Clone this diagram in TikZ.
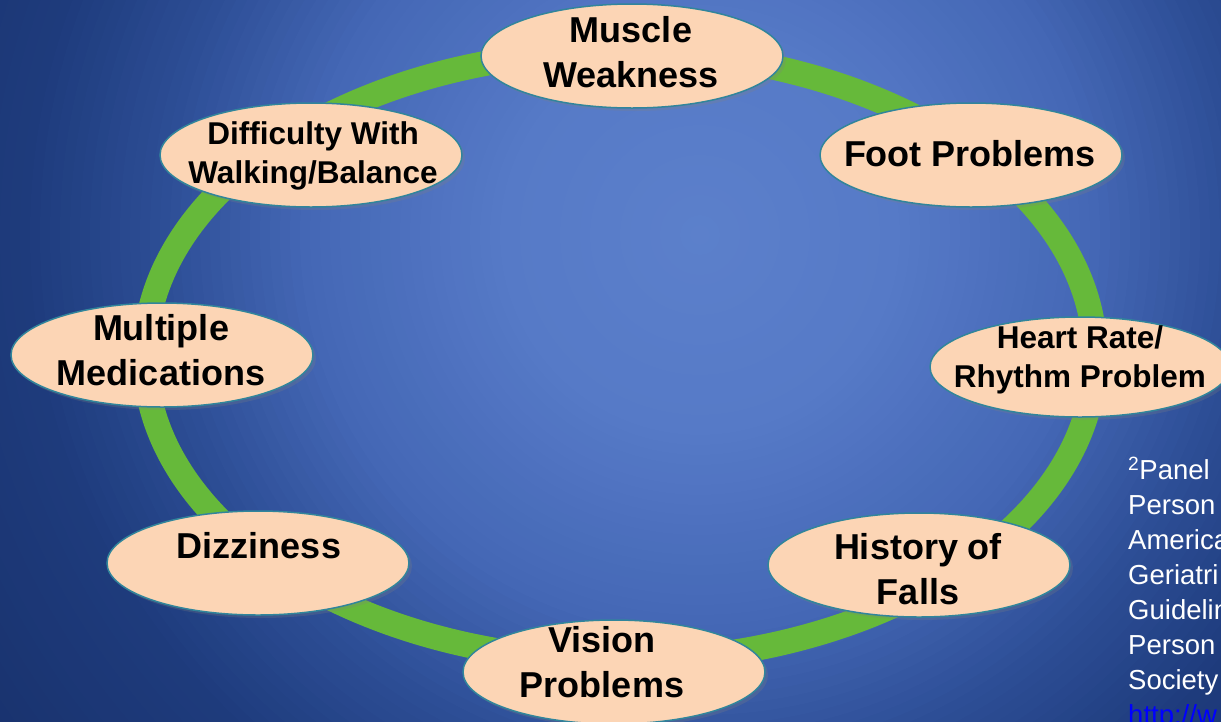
\documentclass[tikz,border=0pt]{standalone}
\usepackage{fontspec}
\setmainfont{Liberation Sans}
\usetikzlibrary{shapes.geometric,shadows}
\definecolor{bgA}{RGB}{92,128,203}
\definecolor{bgB}{RGB}{86,122,199}
\definecolor{bgC}{RGB}{68,103,181}
\definecolor{bgD}{RGB}{45,78,150}
\definecolor{bgE}{RGB}{30,59,124}
\definecolor{bgF}{RGB}{24,49,108}
\definecolor{ringgreen}{RGB}{102,185,58}
\definecolor{peach}{RGB}{252,213,181}
\definecolor{bubbleborder}{RGB}{49,133,155}
\definecolor{linkblue}{RGB}{0,0,255}
\newcommand\BigLbl{\fontsize{36}{45}\selectfont\bfseries}
\newcommand\SmLbl{\fontsize{31.5}{39}\selectfont\bfseries}
\newcommand\NoteFont{\fontsize{27.5}{35}\selectfont}
\tikzset{
  bubble/.style={ellipse, draw=bubbleborder, line width=1.5pt, fill=peach,
    minimum width=302pt, minimum height=104pt, inner sep=0pt,
    drop shadow={opacity=0.25, shadow xshift=3pt, shadow yshift=-3pt}},
  lbl/.style={align=center, inner sep=0pt, text=black},
  ring/.style={draw=ringgreen, line width=25pt},
  note/.style={align=left, inner sep=0pt, text=white, anchor=north west, font=\NoteFont}
}
\begin{document}
\begin{tikzpicture}[x=1pt,y=-1pt]
\useasboundingbox (0,0) rectangle (1221,721);
\begin{scope}
\clip (0,0) rectangle (1221,721);
% radial background built from concentric discs
\coordinate (bgc) at (700,235);
\fill[bgF] (0,0) rectangle (1221,721);
\foreach \r in {900,890,...,690} {
  \pgfmathsetmacro\p{min(100,max(0,(\r-680)/220*100))}
  \fill[bgF!\p!bgE] (bgc) circle[radius=\r pt];
}
\foreach \r in {680,670,...,550} {
  \pgfmathsetmacro\p{(\r-540)/140*100}
  \fill[bgE!\p!bgD] (bgc) circle[radius=\r pt];
}
\foreach \r in {540,530,...,410} {
  \pgfmathsetmacro\p{(\r-400)/140*100}
  \fill[bgD!\p!bgC] (bgc) circle[radius=\r pt];
}
\foreach \r in {400,390,...,210} {
  \pgfmathsetmacro\p{(\r-200)/200*100}
  \fill[bgC!\p!bgB] (bgc) circle[radius=\r pt];
}
\foreach \r in {200,190,...,10} {
  \pgfmathsetmacro\p{\r/200*100}
  \fill[bgB!\p!bgA] (bgc) circle[radius=\r pt];
}
% ring
\draw[ring] (620,356) ellipse [x radius=475pt, y radius=305pt];
% bubbles
\node[bubble] (mw) at (632,56) {};
\node[bubble] (fp) at (971,155) {};
\node[bubble, minimum width=300pt, minimum height=100pt] (hr) at (1080,367) {};
\node[bubble] (hf) at (919,565) {};
\node[bubble] (vp) at (614,672) {};
\node[bubble] (dz) at (258,563) {};
\node[bubble] (mm) at (162,355) {};
\node[bubble] (dw) at (311,155) {};
% labels
\node[lbl, font=\BigLbl] (mwt) at (631,52) {Muscle\\Weakness};
\node[lbl, font=\BigLbl] (fpt) at (970,154) {Foot Problems};
\node[lbl, font=\SmLbl] (hrt) at (1080,360) {Heart Rate/\\Rhythm Problem};
\node[lbl, font=\BigLbl] (hft) at (918,569) {History of\\Falls};
\node[lbl, font=\BigLbl] (vpt) at (602,662) {Vision\\Problems};
\node[lbl, font=\BigLbl] (dzt) at (259,546) {Dizziness};
\node[lbl, font=\BigLbl] (mmt) at (161,350) {Multiple\\Medications};
\node[lbl, font=\SmLbl] (dwt) at (313,156) {Difficulty With\\Walking/Balance};
% footnote
\node[note] (fn) at (1128,457) {\textsuperscript{2}Panel\\Person\\America\\Geriatri\\Guidelin\\Person\\Society\\\textcolor{linkblue}{http://w}};
\end{scope}
\end{tikzpicture}
\end{document}
